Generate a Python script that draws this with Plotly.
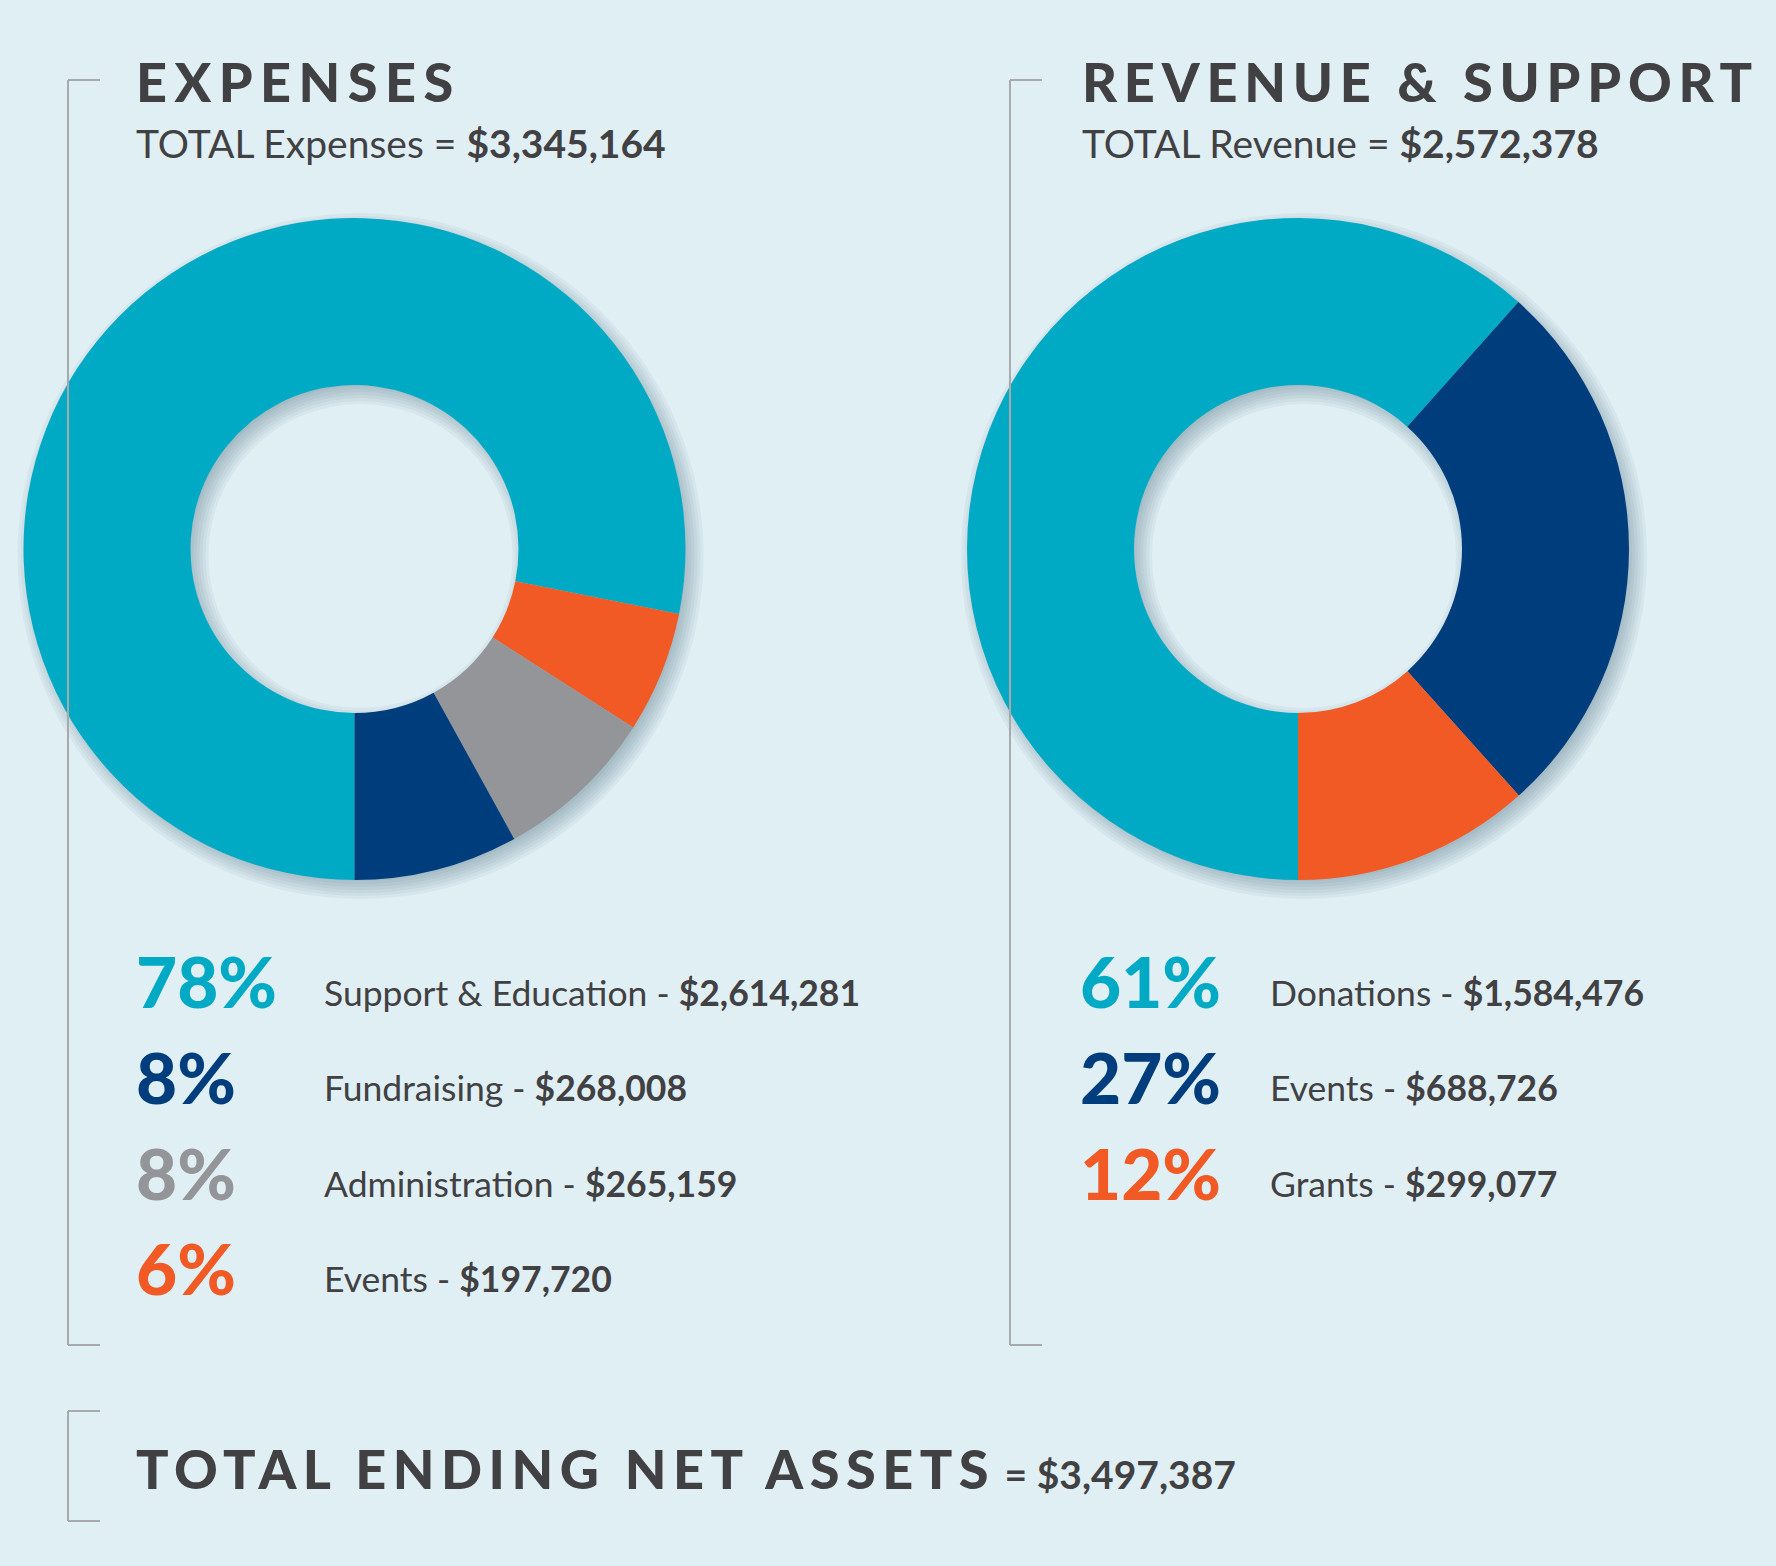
import plotly.graph_objects as go

# ---------------- data ----------------
exp_categories = ["Support & Education", "Fundraising", "Administration", "Events"]
exp_values = [2614281, 268008, 265159, 197720]
exp_pct_labels = ["78%", "8%", "8%", "6%"]
exp_slice_order = [0, 3, 2, 1]          # order of slices clockwise from 6 o'clock
exp_total = "$3,345,164"

rev_categories = ["Donations", "Events", "Grants"]
rev_values = [1584476, 688726, 299077]
rev_pct_labels = ["61%", "27%", "12%"]
rev_slice_order = [0, 1, 2]
rev_total = "$2,572,378"

net_assets_total = "$3,497,387"

# ---------------- styles ----------------
W, H = 1776, 1566
BG = "#E0EFF4"
TXT = "#414042"
LINE = "#A7A9AC"
TEAL = "#00AAC5"
NAVY = "#003D7C"
GRAY = "#939598"
ORANGE = "#F15A24"
exp_colors = [TEAL, NAVY, GRAY, ORANGE]
rev_colors = [TEAL, NAVY, ORANGE]
FONT = "Lato"


def xp(px):
    return px / W


def yp(py):
    return 1 - py / H


fig = go.Figure()


def add_donut(cx, cy, r, r_in, values, colors, order):
    # soft drop shadow made of stacked translucent rings
    sdx, sdy = 6, 7
    for e in [-6, -3, 0, 3, 6, 9, 12]:
        ro = r + e
        ri = max(r_in - e, 1)
        fig.add_trace(go.Pie(
            values=[1], marker=dict(colors=["rgba(60,90,110,0.055)"]),
            hole=ri / ro, sort=False, textinfo="none", hoverinfo="skip",
            showlegend=False,
            domain=dict(x=[xp(cx + sdx - ro), xp(cx + sdx + ro)],
                        y=[yp(cy + sdy + ro), yp(cy + sdy - ro)]),
        ))
    fig.add_trace(go.Pie(
        values=[values[i] for i in order],
        marker=dict(colors=[colors[i] for i in order], line=dict(width=0)),
        hole=r_in / r, sort=False, direction="clockwise", rotation=180,
        textinfo="none", hoverinfo="skip", showlegend=False,
        domain=dict(x=[xp(cx - r), xp(cx + r)], y=[yp(cy + r), yp(cy - r)]),
    ))


add_donut(354.5, 549, 331, 164, exp_values, exp_colors, exp_slice_order)
add_donut(1298, 549, 331, 164, rev_values, rev_colors, rev_slice_order)

ann = []


def text(x, y, s, size, color=TXT, weight=400, anchor="left"):
    ann.append(dict(x=xp(x), y=yp(y), xref="paper", yref="paper", text=s,
                    showarrow=False, xanchor=anchor, yanchor="middle",
                    font=dict(family=FONT, size=size, color=color, weight=weight)))


def spaced(s, sp):
    return f'<span style="letter-spacing:{sp}px">{s}</span>'


# headings
text(134, 82, spaced("EXPENSES", 7.5), 54, weight=900)
text(1080, 82, spaced("REVENUE &amp; SUPPORT", 6.8), 54, weight=900)
text(134, 143, f"TOTAL Expenses = <b>{exp_total}</b>", 39)
text(1080, 143, f"TOTAL Revenue = <b>{rev_total}</b>", 39)

row_y = [981, 1076, 1172, 1267]
for i, cat in enumerate(exp_categories):
    text(134, row_y[i], exp_pct_labels[i], 71, color=exp_colors[i], weight=900)
    text(322, row_y[i] + 11, f"{cat} - <b>${exp_values[i]:,}</b>", 35.5)

for i, cat in enumerate(rev_categories):
    text(1078, row_y[i], rev_pct_labels[i], 71, color=rev_colors[i], weight=900)
    text(1268, row_y[i] + 11, f"{cat} - <b>${rev_values[i]:,}</b>", 35.5)

text(134, 1468, spaced("TOTAL ENDING NET ASSETS", 6.5)
     + f'<span style="font-size:39px;font-weight:700"> = {net_assets_total}</span>',
     54, weight=900)

# brackets
shapes = []


def bracket(x, y0, y1, tick):
    for (a, b, c, d) in [(x, y0, x, y1), (x, y0, x + tick, y0), (x, y1, x + tick, y1)]:
        shapes.append(dict(type="line", xref="paper", yref="paper",
                           x0=xp(a), y0=yp(b), x1=xp(c), y1=yp(d),
                           line=dict(color=LINE, width=2)))


bracket(68, 80, 1345, 32)
bracket(1010, 80, 1345, 32)
bracket(68, 1411, 1521, 32)

fig.update_layout(
    width=W, height=H, margin=dict(l=0, r=0, t=0, b=0),
    paper_bgcolor=BG, plot_bgcolor=BG,
    annotations=ann, shapes=shapes, showlegend=False,
)

fig.write_html("out.html", config={"displayModeBar": False},
               post_script="document.body.style.margin='0px';"
                           "document.body.style.background='" + BG + "';")
